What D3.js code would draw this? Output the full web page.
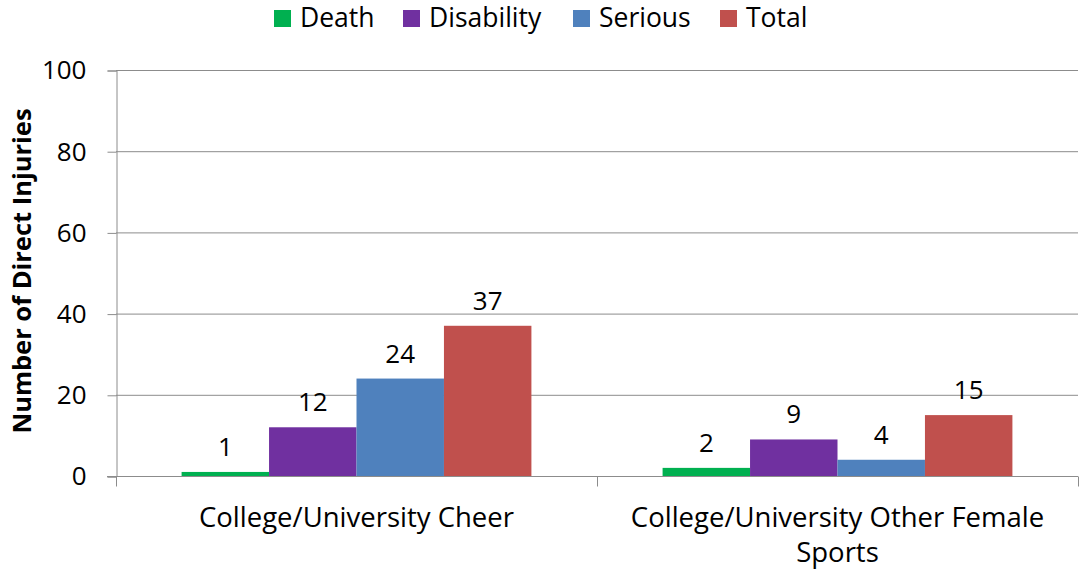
<!DOCTYPE html>
<html>
<head>
<meta charset="utf-8">
<script src="https://cdn.jsdelivr.net/npm/d3@7"></script>
<style>
  body { margin: 0; background: #fff; }
  svg { display: block; font-family: "Open Sans", sans-serif; }
</style>
</head>
<body>
<svg></svg>
<script>
var WIDTH = 1081;
var HEIGHT = 571;

var categories = ['College/University Cheer', 'College/University Other Female Sports'];
var categoryLines = [['College/University Cheer'], ['College/University Other Female', 'Sports']];
var seriesNames = ['Death', 'Disability', 'Serious', 'Total'];
var seriesColors = ['#00b050', '#7030a0', '#4f81bd', '#c0504d'];
var death = [1, 2];
var disability = [12, 9];
var serious = [24, 4];
var total = [37, 15];
var yTicks = [0, 20, 40, 60, 80, 100];

var seriesValues = [death, disability, serious, total];

var margin = {left: 116, right: 3, top: 70, bottom: 95};

var svg = d3.select('svg')
  .attr('width', WIDTH)
  .attr('height', HEIGHT);

var xScale = d3.scaleBand()
  .domain(categories)
  .range([margin.left, WIDTH - margin.right]);

var innerScale = d3.scaleBand()
  .domain(seriesNames)
  .range([0, xScale.bandwidth()])
  .paddingOuter(0.75)
  .paddingInner(0);

var yScale = d3.scaleLinear()
  .domain([0, 100])
  .range([HEIGHT - margin.bottom, margin.top]);

// gridlines
svg.append('g')
  .selectAll('line')
  .data(yTicks.slice(1))
  .enter()
  .append('line')
  .attr('x1', margin.left)
  .attr('x2', WIDTH - margin.right)
  .attr('y1', function(d){ return yScale(d) + 0.5; })
  .attr('y2', function(d){ return yScale(d) + 0.5; })
  .attr('stroke', '#8c8c8c')
  .attr('stroke-width', 1);

// y axis
var leftAxis = d3.axisLeft(yScale)
  .tickValues(yTicks)
  .tickSize(9)
  .tickPadding(21);
var yAxis = svg.append('g')
  .attr('transform', 'translate(' + (margin.left + 0.5) + ',0.5)')
  .call(leftAxis);
yAxis.selectAll('path, line').attr('stroke', '#8c8c8c');
yAxis.selectAll('text')
  .attr('font-size', 26)
  .attr('fill', '#000')
  .style('font-family', '"Open Sans", sans-serif');

// bars
var rows = [];
categories.forEach(function(c, i){
  seriesNames.forEach(function(s, j){
    rows.push({cat: c, series: s, value: seriesValues[j][i], color: seriesColors[j]});
  });
});

svg.append('g')
  .selectAll('rect')
  .data(rows)
  .enter()
  .append('rect')
  .attr('x', function(d){ return xScale(d.cat) + innerScale(d.series); })
  .attr('width', innerScale.bandwidth())
  .attr('y', function(d){ return yScale(d.value); })
  .attr('height', function(d){ return yScale(0) - yScale(d.value); })
  .attr('fill', function(d){ return d.color; });

svg.append('g')
  .selectAll('text')
  .data(rows)
  .enter()
  .append('text')
  .attr('x', function(d){ return xScale(d.cat) + innerScale(d.series) + innerScale.bandwidth() / 2; })
  .attr('y', function(d){ return yScale(d.value) - 16; })
  .attr('text-anchor', 'middle')
  .attr('font-size', 26)
  .attr('fill', '#000')
  .text(function(d){ return d.value; });

// x axis
var botAxis = d3.axisBottom(xScale).tickSize(0).tickFormat('');
var xAxis = svg.append('g')
  .attr('transform', 'translate(0,' + (yScale(0) + 0.5) + ')')
  .call(botAxis);
xAxis.select('path').attr('stroke', '#8c8c8c').attr('d', 'M' + (margin.left - 9) + ',0H' + (WIDTH - margin.right));
var edges = categories.map(function(c){ return xScale(c); }).concat([xScale.range()[1]]);
xAxis.selectAll('.edge')
  .data(edges)
  .enter()
  .append('line')
  .attr('x1', function(d){ return Math.round(d) + 0.5; })
  .attr('x2', function(d){ return Math.round(d) + 0.5; })
  .attr('y1', 0)
  .attr('y2', 10)
  .attr('stroke', '#8c8c8c');

var catLabels = svg.append('g')
  .selectAll('text')
  .data(categories)
  .enter()
  .append('text')
  .attr('x', function(d){ return xScale(d) + xScale.bandwidth() / 2; })
  .attr('y', yScale(0) + 51)
  .attr('text-anchor', 'middle')
  .attr('font-size', 27.5)
  .attr('fill', '#000');
catLabels.selectAll('tspan')
  .data(function(d, i){ return categoryLines[i]; })
  .enter()
  .append('tspan')
  .attr('x', function(){ return d3.select(this.parentNode).attr('x'); })
  .attr('dy', function(d, i){ return i === 0 ? 0 : 35; })
  .text(function(d){ return d; });

// y title
svg.append('text')
  .attr('transform', 'translate(31,' + 271 + ') rotate(-90)')
  .attr('text-anchor', 'middle')
  .attr('font-size', 25.5)
  .attr('font-weight', 'bold')
  .attr('fill', '#000')
  .text('Number of Direct Injuries');

// legend
var legendX = [274, 403, 573, 720];
var legend = svg.append('g')
  .selectAll('g')
  .data(seriesNames)
  .enter()
  .append('g')
  .attr('transform', function(d, i){ return 'translate(' + legendX[i] + ',10)'; });
legend.append('rect')
  .attr('width', 17)
  .attr('height', 17)
  .attr('fill', function(d, i){ return seriesColors[i]; });
legend.append('text')
  .attr('x', 26)
  .attr('y', 17)
  .attr('font-size', 26.5)
  .attr('fill', '#000')
  .text(function(d){ return d; });
</script>
</body>
</html>
